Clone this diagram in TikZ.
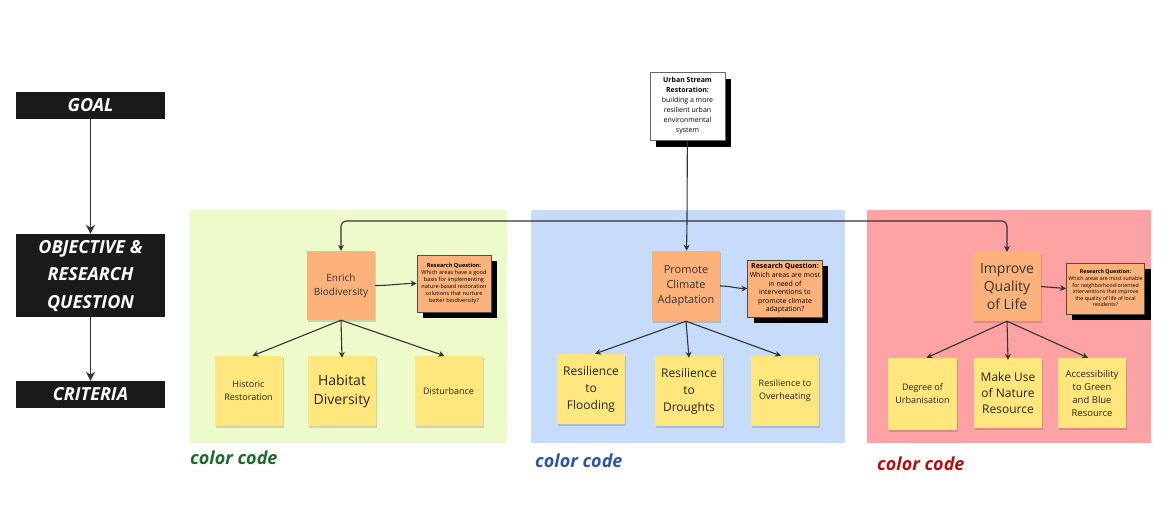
\documentclass[tikz,border=0pt]{standalone}
\usepackage{fontspec}
\setmainfont{Open Sans}
\usetikzlibrary{arrows.meta,shadows,positioning}
\definecolor{labelbg}{HTML}{1A1A1A}
\definecolor{greenpanel}{HTML}{EDFBCB}
\definecolor{bluepanel}{HTML}{C7DCFA}
\definecolor{redpanel}{HTML}{FFA2A3}
\definecolor{orangenote}{HTML}{FDB27C}
\definecolor{yellownote}{HTML}{FFE77E}
\definecolor{arrowgrey}{HTML}{333333}
\definecolor{greentxt}{HTML}{1B6B2A}
\definecolor{bluetxt}{HTML}{2E55A3}
\definecolor{redtxt}{HTML}{AE1111}
\tikzset{
  lvl/.style={fill=labelbg,text=white,minimum width=149pt,align=center,inner sep=0pt,
    font=\fontsize{18}{27.5}\selectfont\bfseries\itshape},
  panel/.style={fill=#1,draw=none,inner sep=0pt},
  objnote/.style={fill=orangenote,text=black!80,minimum width=68pt,minimum height=69pt,align=center,inner sep=2pt,
    drop shadow={shadow xshift=1pt,shadow yshift=-2pt,fill=black,opacity=0.15}},
  critnote/.style={fill=yellownote,text=black!85,minimum width=68pt,minimum height=70pt,align=center,inner sep=2pt,
    drop shadow={shadow xshift=1pt,shadow yshift=-2pt,fill=black,opacity=0.15}},
  rqbox/.style={fill=orangenote,draw=black!70,line width=0.6pt,minimum width=74pt,align=center,inner sep=2pt,
    font=\fontsize{5.6}{7}\selectfont,
    drop shadow={shadow xshift=6pt,shadow yshift=-6pt,fill=black,opacity=1}},
  arr/.style={draw=arrowgrey,line width=1.1pt,-{Stealth[length=6pt,width=6pt]}},
  bigarr/.style={draw=arrowgrey,line width=1.8pt,-{Stealth[length=9pt,width=9pt]}},
  code/.style={font=\fontsize{18}{20}\selectfont\bfseries\itshape,anchor=west,inner sep=0pt},
}
\begin{document}
\begin{tikzpicture}[x=1pt,y=-1pt]
\useasboundingbox[fill=white] (0,0) rectangle (1169,522);
% left levels
\node[lvl,minimum height=27pt] (goal) at (90.5,105.5) {GOAL};
\node[lvl,minimum height=83pt] (obj) at (90.5,275.5) {OBJECTIVE \&\\RESEARCH\\QUESTION};
\node[lvl,minimum height=27pt] (crit) at (90.5,394.5) {CRITERIA};
\draw[bigarr] (goal) -- (obj);
\draw[bigarr] (obj) -- (crit);
% panels
\node[panel=greenpanel,minimum width=317pt,minimum height=233pt] (pg) at (348.5,326.5) {};
\node[panel=bluepanel,minimum width=314pt,minimum height=233pt] (pb) at (688,326.5) {};
\node[panel=redpanel,minimum width=284pt,minimum height=233pt] (pr) at (1009,326.5) {};
% goal note
\node[fill=white,draw=black!60,line width=0.5pt,minimum width=75pt,minimum height=68pt,align=center,inner sep=2pt,
  font=\fontsize{7}{10}\selectfont,
  drop shadow={shadow xshift=6pt,shadow yshift=-7pt,fill=black,opacity=1}] (urban) at (687.5,106)
  {\textbf{Urban Stream}\\\textbf{Restoration:}\\building a more\\resilient urban\\environmental\\system};
% objectives
\node[objnote,font=\fontsize{10}{14}\selectfont] (enrich) at (341,285.5) {Enrich\\Biodiversity};
\node[objnote,font=\fontsize{11}{15}\selectfont,minimum height=70pt] (promote) at (686,286) {Promote\\Climate\\Adaptation};
\node[objnote,font=\fontsize{14}{18}\selectfont] (improve) at (1007,286.5) {Improve\\Quality\\of Life};
% research questions
\node[rqbox,minimum height=57pt] (rq1) at (454,283.5) {\textbf{Research Question:}\\Which areas have a good\\basis for implementing\\nature-based restoration\\solutions that nurture\\better biodiversity?};
\node[rqbox,minimum height=57pt,font=\fontsize{7}{8.6}\selectfont] (rq2) at (785,288.5) {\textbf{Research Question:}\\Which areas are most\\in need of\\interventions to\\promote climate\\adaptation?};
\node[rqbox,minimum height=51pt,font=\fontsize{5.3}{6.6}\selectfont] (rq3) at (1105.5,288.5) {\textbf{Research Question:}\\Which areas are most suitable\\for neighborhood-oriented\\interventions that improve\\the quality of life of local\\residents?};
% connectors from goal
\coordinate (split) at (687,221);
\draw[draw=arrowgrey,line width=1.1pt] (urban) -- (split);
\draw[arr] (split) -- (promote);
\draw[arr,rounded corners=5pt] (split) -| (enrich.north);
\draw[arr,rounded corners=5pt] (split) -| (improve.north);
% objective -> RQ
\draw[arr] (enrich.east) to[out=0,in=180] (rq1.west);
\draw[arr] (promote.east) to[out=0,in=180] (rq2.west);
\draw[arr] (improve.east) -- (rq3.west);
% criteria
\node[critnote,font=\fontsize{9}{13}\selectfont] (c11) at (248.5,391) {Historic\\Restoration};
\node[critnote,font=\fontsize{14}{19}\selectfont] (c12) at (342,391) {Habitat\\Diversity};
\node[critnote,font=\fontsize{9}{13}\selectfont] (c13) at (448.5,391) {Disturbance};
\node[critnote,font=\fontsize{12}{17}\selectfont] (c21) at (591,389) {Resilience\\to\\Flooding};
\node[critnote,font=\fontsize{12}{17}\selectfont] (c22) at (689,391) {Resilience\\to\\Droughts};
\node[critnote,font=\fontsize{9}{13}\selectfont] (c23) at (785,391) {Resilience to\\Overheating};
\node[critnote,font=\fontsize{9}{13}\selectfont,minimum width=69pt,minimum height=72pt] (c31) at (922.5,394) {Degree of\\Urbanisation};
\node[critnote,font=\fontsize{12}{16}\selectfont] (c32) at (1008,393) {Make Use\\of Nature\\Resource};
\node[critnote,font=\fontsize{9.5}{13}\selectfont] (c33) at (1092,393) {Accessibility\\to Green\\and Blue\\Resource};
% objective -> criteria
\draw[arr] (enrich.south) -- ([xshift=4pt]c11.north);
\draw[arr] (enrich.south) -- ([yshift=-2pt]c12.north);
\draw[arr] (enrich.south) -- ([xshift=-4pt]c13.north);
\draw[arr] (promote.south) -- ([xshift=4pt]c21.north);
\draw[arr] (promote.south) -- ([yshift=-2pt]c22.north);
\draw[arr] (promote.south) -- ([xshift=-4pt]c23.north);
\draw[arr] (improve.south) -- ([xshift=4pt]c31.north);
\draw[arr] (improve.south) -- ([yshift=-2pt]c32.north);
\draw[arr] (improve.south) -- ([xshift=-4pt]c33.north);
% color code labels
\node[code,text=greentxt] (cg) at (190,458) {color code};
\node[code,text=bluetxt] (cb) at (535,461) {color code};
\node[code,text=redtxt] (cr) at (877,464) {color code};
\end{tikzpicture}
\end{document}
